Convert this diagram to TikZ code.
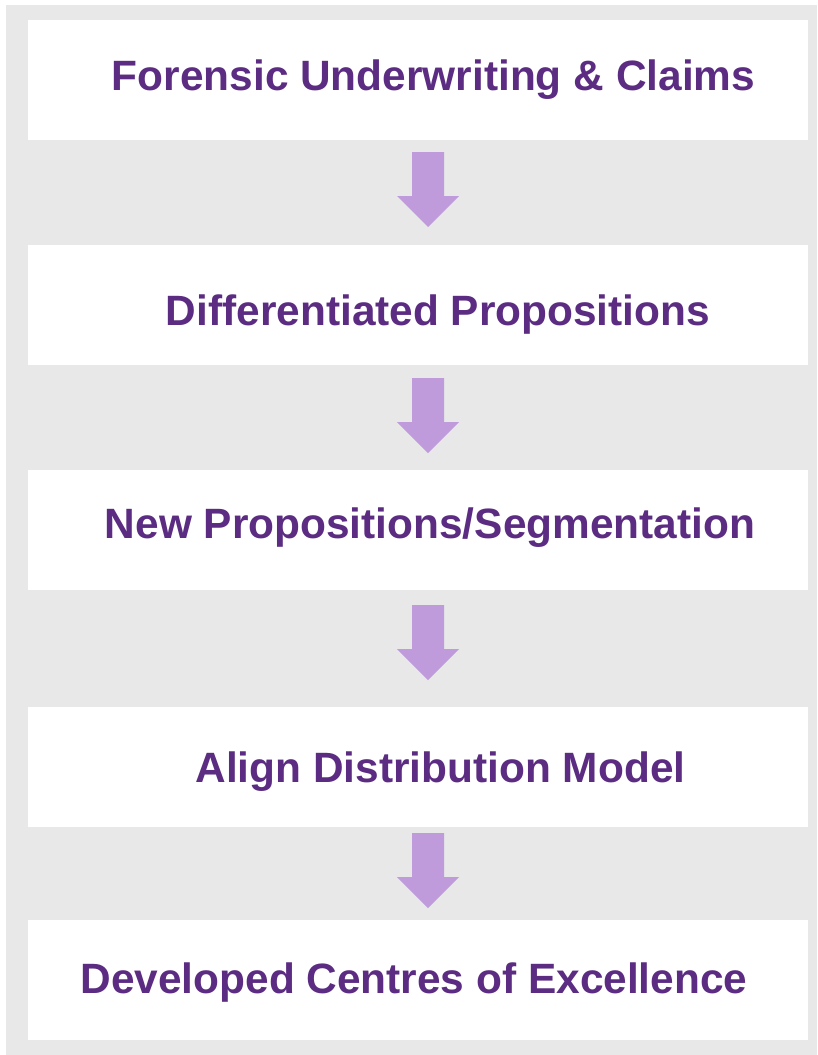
\documentclass[tikz,border=0pt]{standalone}
\usepackage{fontspec}
\setmainfont{Liberation Sans}
\definecolor{panelgray}{HTML}{E8E8E8}
\definecolor{stagepurple}{HTML}{5B2C82}
\definecolor{arrowlilac}{HTML}{BF9BDC}
\tikzset{
  stagebox/.style={fill=white, draw=none},
  stagetext/.style={anchor=base, text=stagepurple, font=\fontsize{42.4}{50}\selectfont\bfseries, inner sep=0pt},
  flowarrow/.style={fill=arrowlilac, draw=none}
}
\begin{document}
\begin{tikzpicture}[x=1pt, y=-1pt]
        \useasboundingbox (0, 0) rectangle (817, 1055);
        % Grey panel behind everything
        \fill[panelgray] (6, 5) rectangle (817, 1055);

        % Draw the white stage boxes
        \draw[stagebox] (28, 20) rectangle (808, 140);
        \draw[stagebox] (28, 245) rectangle (808, 365);
        \draw[stagebox] (28, 470) rectangle (808, 590);
        \draw[stagebox] (28, 707) rectangle (808, 827);
        \draw[stagebox] (28, 920) rectangle (808, 1040);

        % Stage labels
        \node[stagetext] (forensic) at (433.5, 90) {Forensic Underwriting \& Claims};
        \node[stagetext] (differentiated) at (438, 325) {Differentiated Propositions};
        \node[stagetext] (segmentation) at (430, 538) {New Propositions/Segmentation};
        \node[stagetext] (distribution) at (440.5, 782) {Align Distribution Model};
        \node[stagetext] (excellence) at (414, 993) {Developed Centres of Excellence};

        % Block arrows between the stages (top edge of each arrow)
        \foreach \t in {152, 378, 605, 833} {
            \fill[flowarrow] (412, \t) -- (444, \t) -- (444, \t+44) -- (459, \t+44)
                -- (428, \t+75) -- (397, \t+44) -- (412, \t+44) -- cycle;
        }
\end{tikzpicture}
\end{document}
